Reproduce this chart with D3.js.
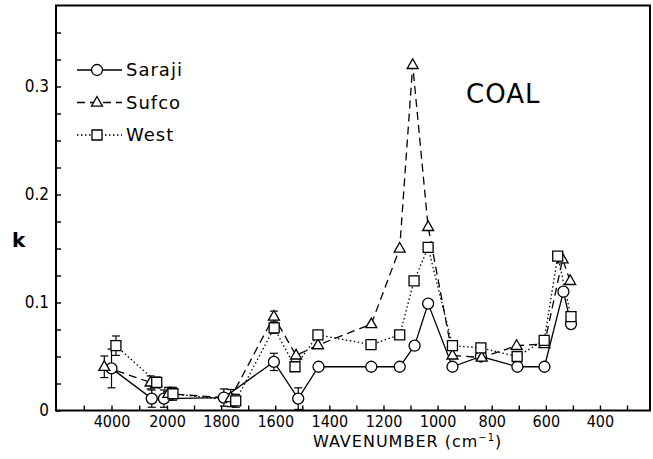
<!DOCTYPE html>
<meta charset="utf-8">
<style>

body { margin: 0; background: #fff; }

.axis path, .axis line {
  stroke: #000;
  stroke-width: 1.4px;
}

.axis text {
  font-family: "DejaVu Sans Condensed", "DejaVu Sans", sans-serif;
  font-stretch: condensed;
  font-size: 17px;
  fill: #000;
}

.series {
  fill: none;
  stroke: #000;
  stroke-width: 1.3px;
}

.marker {
  fill: #fff;
  stroke: #000;
  stroke-width: 1.3px;
}

.err {
  stroke: #000;
  stroke-width: 1.2px;
}

.label {
  font-family: "DejaVu Sans", sans-serif;
  fill: #000;
}

</style>
<svg width="653" height="459"></svg>
<script src="https://d3js.org/d3.v7.min.js"></script>
<script>

// wavenumber (cm-1), k, error bar half-height
var sarajiWn  = [4000, 2550, 2110, 1790, 1605, 1515, 1440, 1245, 1140, 1085, 1035, 945, 840, 705, 605, 535, 507];
var sarajiK   = [0.039, 0.011, 0.011, 0.012, 0.045, 0.011, 0.0405, 0.0405, 0.0405, 0.06, 0.099, 0.0405, 0.05, 0.0405, 0.0405, 0.11, 0.08];
var sarajiErr = [0.018, 0.008, 0.008, 0.008, 0.008, 0.01, 0, 0, 0, 0, 0, 0, 0, 0, 0, 0, 0];

var sufcoWn  = [4260, 2590, 1995, 1765, 1605, 1523, 1442, 1245, 1140, 1092, 1035, 945, 837, 708, 605, 538, 510];
var sufcoK   = [0.0405, 0.026, 0.0155, 0.0115, 0.087, 0.051, 0.0605, 0.08, 0.15, 0.32, 0.17, 0.051, 0.049, 0.06, 0.0615, 0.14, 0.12];
var sufcoErr = [0.01, 0.006, 0.006, 0.008, 0.005, 0, 0, 0, 0, 0, 0, 0, 0, 0, 0, 0, 0];

var westWn  = [3840, 2370, 1978, 1746, 1604, 1527, 1442, 1246, 1140, 1087, 1035, 945, 840, 706, 606, 556, 507];
var westK   = [0.06, 0.026, 0.0155, 0.009, 0.0765, 0.0405, 0.07, 0.061, 0.07, 0.12, 0.151, 0.06, 0.058, 0.05, 0.065, 0.143, 0.087];
var westErr = [0.009, 0.005, 0.006, 0.006, 0.005, 0, 0, 0, 0, 0, 0, 0, 0, 0, 0, 0, 0];

var xMajor = [4000, 2000, 1800, 1600, 1400, 1200, 1000, 800, 600, 400];
var xMinor = [5000, 3000, 1900, 1700, 1500, 1300, 1100, 900, 700, 500, 300];
var yMajor = [0, 0.1, 0.2, 0.3];

var svg = d3.select("svg"),
    margin = {left: 56, right: 3, top: 5.5, bottom: 48.5},
    width = +svg.attr("width") - margin.left - margin.right,
    height = +svg.attr("height") - margin.top - margin.bottom;

var g = svg.append("g")
    .attr("transform", "translate(" + margin.left + "," + margin.top + ")");

// broken axis: 6000-2000 squeezed, then linear down to ~215
var x = d3.scaleLinear()
    .domain([6000, 4000, 2000, 215])
    .range([0, 55.5, 111, width]);

var y = d3.scaleLinear()
    .domain([0, 0.375])
    .range([height, 0]);

g.append("g")
    .attr("class", "axis")
    .attr("transform", "translate(0," + height + ")")
    .call(d3.axisBottom(x).tickValues(xMajor.concat(xMinor))
        .tickSizeInner(-5).tickSizeOuter(0).tickPadding(5)
        .tickFormat(function(d) { return xMajor.indexOf(d) >= 0 ? d : ""; }))
    .call(function(a) {
      a.select(".domain").remove();
      a.selectAll("text").style("font-size", "16px");
    });

g.append("g")
    .attr("class", "axis")
    .call(d3.axisLeft(y).tickValues(d3.range(0, 0.36, 0.025))
        .tickSizeInner(-5).tickSizeOuter(0).tickPadding(7)
        .tickFormat(function(d) {
          var r = Math.round(d * 1000) / 1000;
          return yMajor.indexOf(r) >= 0 ? (r === 0 ? "0" : d3.format(".1f")(r)) : "";
        }))
    .call(function(a) { a.select(".domain").remove(); });

g.append("rect")
    .attr("width", width)
    .attr("height", height)
    .attr("fill", "none")
    .attr("stroke", "#000")
    .attr("stroke-width", 2);

var series = [
  {name: "Saraji", wn: sarajiWn, k: sarajiK, err: sarajiErr, dash: null, shape: "circle"},
  {name: "Sufco", wn: sufcoWn, k: sufcoK, err: sufcoErr, dash: "8,5", shape: "triangle"},
  {name: "West", wn: westWn, k: westK, err: westErr, dash: "1.5,2.5", shape: "square"}
];

series.forEach(function(s) {
  s.points = s.wn.map(function(w, i) { return {wn: w, k: s.k[i], err: s.err[i]}; });
});

var line = d3.line()
    .x(function(d) { return x(d.wn); })
    .y(function(d) { return y(d.k); });

function markerPath(shape) {
  if (shape === "circle") return d3.symbol(d3.symbolCircle, 95)();
  if (shape === "triangle") return "M0,-6L5.5,3.6L-5.5,3.6Z";
  return "M-5,-5H5V5H-5Z";
}

g.selectAll(".series")
    .data(series)
  .enter().append("path")
    .attr("class", "series")
    .attr("d", function(s) { return line(s.points); })
    .style("stroke-dasharray", function(s) { return s.dash; });

series.forEach(function(s) {
  var eb = g.selectAll(".err-" + s.shape)
      .data(s.points.filter(function(d) { return d.err > 0; }))
    .enter().append("g")
      .attr("class", "err err-" + s.shape);
  eb.append("line")
      .attr("x1", function(d) { return x(d.wn); })
      .attr("x2", function(d) { return x(d.wn); })
      .attr("y1", function(d) { return y(d.k - d.err); })
      .attr("y2", function(d) { return y(d.k + d.err); });
  [-1, 1].forEach(function(sgn) {
    eb.append("line")
        .attr("x1", function(d) { return x(d.wn) - 4; })
        .attr("x2", function(d) { return x(d.wn) + 4; })
        .attr("y1", function(d) { return y(d.k + sgn * d.err); })
        .attr("y2", function(d) { return y(d.k + sgn * d.err); });
  });
});

series.forEach(function(s) {
  g.selectAll(".m-" + s.shape)
      .data(s.points)
    .enter().append("path")
      .attr("class", "marker m-" + s.shape)
      .attr("d", markerPath(s.shape))
      .attr("transform", function(d) { return "translate(" + x(d.wn) + "," + y(d.k) + ")"; });
});

// legend
var legend = svg.append("g")
    .attr("transform", "translate(77,70)");

var item = legend.selectAll(".item")
    .data(series)
  .enter().append("g")
    .attr("class", "item")
    .attr("transform", function(d, i) { return "translate(0," + (i * 32.5) + ")"; });

item.append("line")
    .attr("class", "series")
    .attr("x1", 0).attr("x2", 45)
    .style("stroke-dasharray", function(s) { return s.dash; });

item.append("path")
    .attr("class", "marker")
    .attr("d", function(s) { return markerPath(s.shape); })
    .attr("transform", "translate(20,0)");

item.append("text")
    .attr("class", "label")
    .attr("x", 49)
    .attr("dy", "0.36em")
    .style("font-size", "18px")
    .style("letter-spacing", "1px")
    .text(function(s) { return s.name; });

svg.append("text")
    .attr("class", "label")
    .attr("x", 466)
    .attr("y", 103)
    .style("font-size", "26px")
    .style("letter-spacing", "1px")
    .text("COAL");

svg.append("text")
    .attr("class", "label")
    .attr("x", 12)
    .attr("y", 247)
    .style("font-size", "20px")
    .style("font-weight", "bold")
    .text("k");

var xl = svg.append("text")
    .attr("class", "label")
    .attr("x", 313)
    .attr("y", 447)
    .style("font-size", "16px")
    .style("letter-spacing", "1px");
xl.append("tspan").text("WAVENUMBER (cm");
xl.append("tspan").attr("dy", -6).style("font-size", "10px").text("−1");
xl.append("tspan").attr("dy", 6).text(")");

</script>
